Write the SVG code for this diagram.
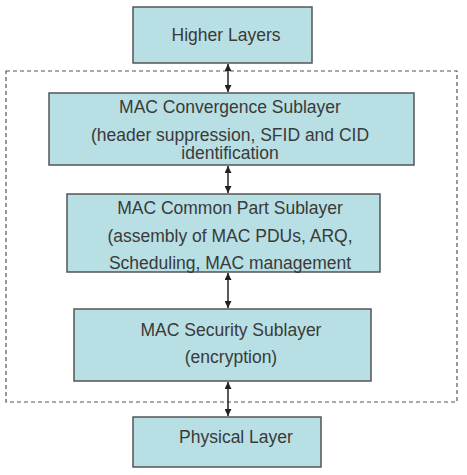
<svg xmlns="http://www.w3.org/2000/svg" width="467" height="475" viewBox="0 0 467 475">
<style>
.box{fill:#b8dfe3;stroke:#555;stroke-width:1.5}
.t{font-family:"Liberation Sans",Arial,sans-serif;font-size:17.5px;fill:#3a3a3a;text-anchor:middle;dominant-baseline:central}
.c{stroke:#222;stroke-width:1.5;fill:none;marker-start:url(#a);marker-end:url(#a)}
</style>
<defs>
<marker id="a" viewBox="0 0 10 10" refX="10" refY="5" markerWidth="7" markerHeight="7" orient="auto-start-reverse" markerUnits="userSpaceOnUse">
<path d="M0,0 L10,5 L0,10 z" fill="#222"/>
</marker>
</defs>
<rect x="6" y="71" width="451" height="331" fill="none" stroke="#555" stroke-width="1.2" stroke-dasharray="4,3"/>
<g id="connectors">
<line class="c" x1="228" y1="64" x2="228" y2="92"/>
<line class="c" x1="228" y1="166" x2="228" y2="193"/>
<line class="c" x1="228" y1="273" x2="228" y2="308"/>
<line class="c" x1="228" y1="382" x2="228" y2="416"/>
</g>
<g id="higher">
<rect class="box" x="133" y="7" width="179" height="56"/>
<text class="t" x="226" y="35">Higher Layers</text>
</g>
<g id="convergence">
<rect class="box" x="49" y="93" width="365" height="72"/>
<text class="t" x="230" y="107">MAC Convergence Sublayer</text>
<text class="t" x="230" y="135">(header suppression, SFID and CID</text>
<text class="t" x="230" y="153">identification</text>
</g>
<g id="common">
<rect class="box" x="67" y="194" width="313" height="78"/>
<text class="t" x="230" y="208">MAC Common Part Sublayer</text>
<text class="t" x="230" y="236">(assembly of MAC PDUs, ARQ,</text>
<text class="t" x="230" y="263">Scheduling, MAC management</text>
</g>
<g id="security">
<rect class="box" x="74" y="309" width="297" height="72"/>
<text class="t" x="231" y="330">MAC Security Sublayer</text>
<text class="t" x="231" y="357">(encryption)</text>
</g>
<g id="physical">
<rect class="box" x="133" y="417" width="188" height="50"/>
<text class="t" x="236" y="437">Physical Layer</text>
</g>
</svg>
